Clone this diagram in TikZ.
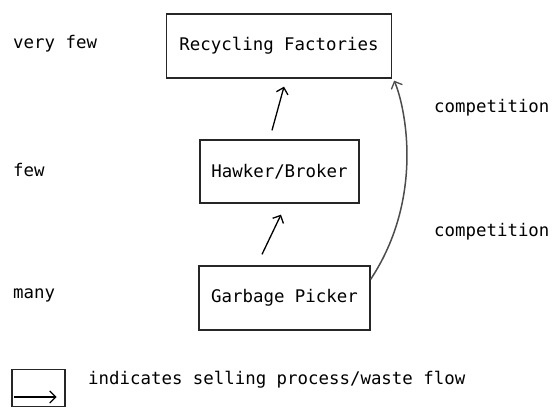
\documentclass[tikz,border=0pt]{standalone}
\usepackage{fontspec}
\setmonofont{DejaVu Sans Mono}
\usetikzlibrary{arrows.meta}

\begin{document}
\begin{tikzpicture}[x=1pt,y=1pt,
	font=\ttfamily\fontsize{17.4}{20}\selectfont,
	stage/.style={draw=black!85, line width=1.3pt, inner sep=0pt},
	sell/.style={line width=1.3pt, -{Straight Barb[length=6pt,width=12pt,line width=1.3pt]}},
	lbl/.style={anchor=west, inner sep=0pt}]
	\useasboundingbox (0,0) rectangle (559,412);
	\node[stage, minimum width=225, minimum height=64] (factories) at (279,366) {Recycling Factories};
	\node[stage, minimum width=159, minimum height=63] (hawker) at (279.5,240.5) {Hawker/Broker};
	\node[stage, minimum width=171, minimum height=64] (picker) at (284.5,114) {Garbage Picker};
	\node[lbl] (veryfew) at (13,368) {very few};
	\node[lbl] (few) at (13,242) {few};
	\node[lbl] (many) at (13,117) {many};
	\node[lbl] (comp1) at (434,304) {competition};
	\node[lbl] (comp2) at (434,180) {competition};
	\draw[sell] ([shift={(-7.5,9)}]hawker.north) -- ([shift={(5,-8)}]factories.south);
	\draw[sell] ([shift={(-22.5,11)}]picker.north) -- ([shift={(1.5,-11)}]hawker.south);
	\draw[sell, black!70, line width=1.5pt] ([yshift=-14]picker.north east) .. controls (425,215) and (405,306) .. ([shift={(2,-2)}]factories.south east);
	\node[stage, minimum width=53, minimum height=37] (key) at (38.5,24) {};
	\draw[sell] ([shift={(3,-9)}]key.west) -- ([shift={(-9,-9)}]key.east);
	\node[lbl] (keytext) at (88,32) {indicates selling process/waste flow};
\end{tikzpicture}
\end{document}
